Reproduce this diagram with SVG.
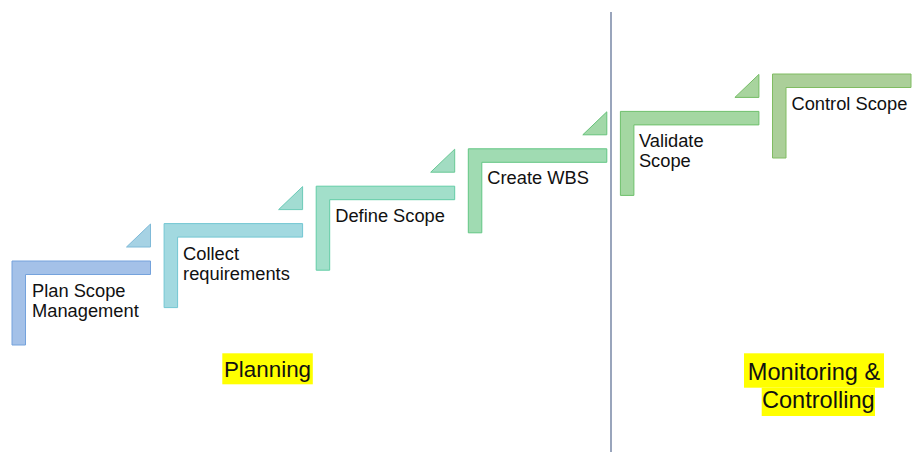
<svg xmlns="http://www.w3.org/2000/svg" width="922" height="459" viewBox="0 0 922 459">
<defs>
<style>
.lbl{font-family:"Liberation Sans",Arial,sans-serif;font-size:18.3px;fill:#111}
.big{font-family:"Liberation Sans",Arial,sans-serif;font-size:22.4px;fill:#111}
.big2{font-family:"Liberation Sans",Arial,sans-serif;font-size:23.6px;fill:#111}
.hl{fill:#ffff00}
</style>
<path id="ell" d="M0,0 H138.5 V13.5 H13.5 V84 H0 Z"/>
<path id="tri" d="M114.5,-14 H138.5 V-37 Z"/>
</defs>
<rect width="922" height="459" fill="#ffffff"/>
<g id="connectors">
<line x1="611" y1="12" x2="611" y2="452" stroke="#56698f" stroke-width="1.2"/>
</g>
<g id="step1" transform="translate(12,261)">
<use href="#tri" fill="#a6d2e4" stroke="#7fbad8" stroke-width="1"/>
<use href="#ell" fill="#a4c1e8" stroke="#74a2dc" stroke-width="1"/>
<text class="lbl" x="20" y="36">Plan Scope</text>
<text class="lbl" x="20" y="56">Management</text>
</g>
<g id="step2" transform="translate(164.1,223.6)">
<use href="#tri" fill="#a2dcd2" stroke="#6ccbb8" stroke-width="1"/>
<use href="#ell" fill="#a2d9e0" stroke="#72c6d2" stroke-width="1"/>
<text class="lbl" x="19" y="36">Collect</text>
<text class="lbl" x="19" y="56">requirements</text>
</g>
<g id="step3" transform="translate(316.2,186.2)">
<use href="#tri" fill="#a2dcc2" stroke="#68c894" stroke-width="1"/>
<use href="#ell" fill="#a2dfca" stroke="#62cca6" stroke-width="1"/>
<text class="lbl" x="19" y="36">Define Scope</text>
</g>
<g id="step4" transform="translate(468.3,148.8)">
<use href="#tri" fill="#a2d8a8" stroke="#66c27a" stroke-width="1"/>
<use href="#ell" fill="#a0dbb2" stroke="#62c684" stroke-width="1"/>
<text class="lbl" x="19" y="35.5">Create WBS</text>
</g>
<g id="step5" transform="translate(620.4,111.4)">
<use href="#tri" fill="#a8d49e" stroke="#74bc64" stroke-width="1"/>
<use href="#ell" fill="#a4d7a2" stroke="#6ec06c" stroke-width="1"/>
<text class="lbl" x="18.5" y="35.5">Validate</text>
<text class="lbl" x="18.5" y="56">Scope</text>
</g>
<g id="step6" transform="translate(772.5,74)">
<use href="#ell" fill="#abcf99" stroke="#80bc62" stroke-width="1"/>
<text class="lbl" x="19" y="35.5">Control Scope</text>
</g>
<g id="planning">
<rect class="hl" x="222.3" y="353.3" width="90.5" height="31"/>
<text class="big" x="267.5" y="377" text-anchor="middle">Planning</text>
</g>
<g id="monitoring">
<rect class="hl" x="744" y="353.3" width="140" height="34.4"/>
<rect class="hl" x="761.7" y="387.7" width="113.3" height="28.3"/>
<text class="big2" x="814" y="380" text-anchor="middle">Monitoring &amp;</text>
<text class="big2" x="818.3" y="408.3" text-anchor="middle">Controlling</text>
</g>
</svg>
